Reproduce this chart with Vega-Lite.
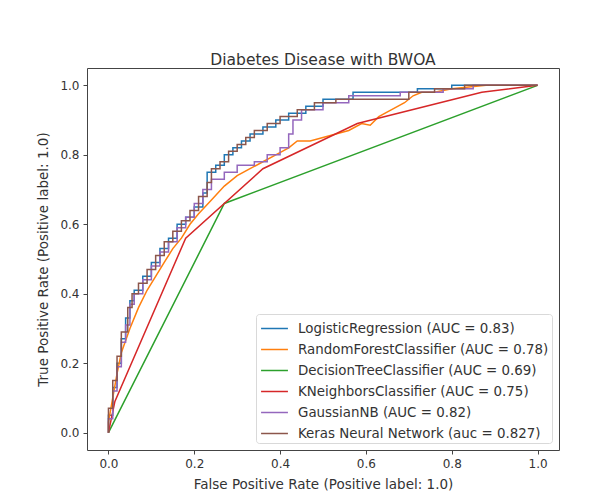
{
  "$schema": "https://vega.github.io/schema/vega-lite/v6.json",
  "width": 472,
  "height": 382,
  "autosize": {"type": "none"},
  "padding": {"left": 87, "top": 68, "right": 55, "bottom": 51},
  "background": "white",
  "title": {"text": "Diabetes Disease with BWOA", "fontSize": 15.5, "font": "DejaVu Sans", "fontWeight": "normal", "color": "#333", "offset": 0},
  "config": {
    "view": {"stroke": "#444", "strokeWidth": 1},
    "axis": {"grid": false, "domain": false, "tickColor": "#444", "tickSize": 4, "labelFont": "DejaVu Sans", "labelFontSize": 12, "labelColor": "#333", "labelPadding": 4, "titleFont": "DejaVu Sans", "titleFontSize": 13.5, "titleFontWeight": "normal", "titleColor": "#333"},
    "legend": {"labelFont": "DejaVu Sans", "labelFontSize": 13.4, "labelColor": "#333", "labelLimit": 0}
  },
  "data": {"values": [
    {"model": "LogisticRegression (AUC = 0.83)", "step": 0, "fpr": 0, "tpr": 0},
    {"model": "LogisticRegression (AUC = 0.83)", "step": 1, "fpr": 0, "tpr": 0.05},
    {"model": "LogisticRegression (AUC = 0.83)", "step": 2, "fpr": 0.01, "tpr": 0.05},
    {"model": "LogisticRegression (AUC = 0.83)", "step": 3, "fpr": 0.01, "tpr": 0.13},
    {"model": "LogisticRegression (AUC = 0.83)", "step": 4, "fpr": 0.02, "tpr": 0.13},
    {"model": "LogisticRegression (AUC = 0.83)", "step": 5, "fpr": 0.02, "tpr": 0.2},
    {"model": "LogisticRegression (AUC = 0.83)", "step": 6, "fpr": 0.03, "tpr": 0.2},
    {"model": "LogisticRegression (AUC = 0.83)", "step": 7, "fpr": 0.03, "tpr": 0.27},
    {"model": "LogisticRegression (AUC = 0.83)", "step": 8, "fpr": 0.04, "tpr": 0.27},
    {"model": "LogisticRegression (AUC = 0.83)", "step": 9, "fpr": 0.04, "tpr": 0.33},
    {"model": "LogisticRegression (AUC = 0.83)", "step": 10, "fpr": 0.05, "tpr": 0.33},
    {"model": "LogisticRegression (AUC = 0.83)", "step": 11, "fpr": 0.05, "tpr": 0.38},
    {"model": "LogisticRegression (AUC = 0.83)", "step": 12, "fpr": 0.06, "tpr": 0.38},
    {"model": "LogisticRegression (AUC = 0.83)", "step": 13, "fpr": 0.06, "tpr": 0.41},
    {"model": "LogisticRegression (AUC = 0.83)", "step": 14, "fpr": 0.08, "tpr": 0.41},
    {"model": "LogisticRegression (AUC = 0.83)", "step": 15, "fpr": 0.08, "tpr": 0.45},
    {"model": "LogisticRegression (AUC = 0.83)", "step": 16, "fpr": 0.1, "tpr": 0.45},
    {"model": "LogisticRegression (AUC = 0.83)", "step": 17, "fpr": 0.1, "tpr": 0.49},
    {"model": "LogisticRegression (AUC = 0.83)", "step": 18, "fpr": 0.12, "tpr": 0.49},
    {"model": "LogisticRegression (AUC = 0.83)", "step": 19, "fpr": 0.12, "tpr": 0.53},
    {"model": "LogisticRegression (AUC = 0.83)", "step": 20, "fpr": 0.14, "tpr": 0.53},
    {"model": "LogisticRegression (AUC = 0.83)", "step": 21, "fpr": 0.14, "tpr": 0.56},
    {"model": "LogisticRegression (AUC = 0.83)", "step": 22, "fpr": 0.16, "tpr": 0.56},
    {"model": "LogisticRegression (AUC = 0.83)", "step": 23, "fpr": 0.16, "tpr": 0.6},
    {"model": "LogisticRegression (AUC = 0.83)", "step": 24, "fpr": 0.18, "tpr": 0.6},
    {"model": "LogisticRegression (AUC = 0.83)", "step": 25, "fpr": 0.18, "tpr": 0.62},
    {"model": "LogisticRegression (AUC = 0.83)", "step": 26, "fpr": 0.2, "tpr": 0.62},
    {"model": "LogisticRegression (AUC = 0.83)", "step": 27, "fpr": 0.2, "tpr": 0.65},
    {"model": "LogisticRegression (AUC = 0.83)", "step": 28, "fpr": 0.22, "tpr": 0.65},
    {"model": "LogisticRegression (AUC = 0.83)", "step": 29, "fpr": 0.22, "tpr": 0.69},
    {"model": "LogisticRegression (AUC = 0.83)", "step": 30, "fpr": 0.23, "tpr": 0.69},
    {"model": "LogisticRegression (AUC = 0.83)", "step": 31, "fpr": 0.23, "tpr": 0.75},
    {"model": "LogisticRegression (AUC = 0.83)", "step": 32, "fpr": 0.25, "tpr": 0.75},
    {"model": "LogisticRegression (AUC = 0.83)", "step": 33, "fpr": 0.25, "tpr": 0.77},
    {"model": "LogisticRegression (AUC = 0.83)", "step": 34, "fpr": 0.27, "tpr": 0.77},
    {"model": "LogisticRegression (AUC = 0.83)", "step": 35, "fpr": 0.27, "tpr": 0.8},
    {"model": "LogisticRegression (AUC = 0.83)", "step": 36, "fpr": 0.29, "tpr": 0.8},
    {"model": "LogisticRegression (AUC = 0.83)", "step": 37, "fpr": 0.29, "tpr": 0.82},
    {"model": "LogisticRegression (AUC = 0.83)", "step": 38, "fpr": 0.31, "tpr": 0.82},
    {"model": "LogisticRegression (AUC = 0.83)", "step": 39, "fpr": 0.31, "tpr": 0.84},
    {"model": "LogisticRegression (AUC = 0.83)", "step": 40, "fpr": 0.33, "tpr": 0.84},
    {"model": "LogisticRegression (AUC = 0.83)", "step": 41, "fpr": 0.33, "tpr": 0.86},
    {"model": "LogisticRegression (AUC = 0.83)", "step": 42, "fpr": 0.36, "tpr": 0.86},
    {"model": "LogisticRegression (AUC = 0.83)", "step": 43, "fpr": 0.36, "tpr": 0.88},
    {"model": "LogisticRegression (AUC = 0.83)", "step": 44, "fpr": 0.39, "tpr": 0.88},
    {"model": "LogisticRegression (AUC = 0.83)", "step": 45, "fpr": 0.39, "tpr": 0.9},
    {"model": "LogisticRegression (AUC = 0.83)", "step": 46, "fpr": 0.42, "tpr": 0.9},
    {"model": "LogisticRegression (AUC = 0.83)", "step": 47, "fpr": 0.42, "tpr": 0.92},
    {"model": "LogisticRegression (AUC = 0.83)", "step": 48, "fpr": 0.46, "tpr": 0.92},
    {"model": "LogisticRegression (AUC = 0.83)", "step": 49, "fpr": 0.46, "tpr": 0.94},
    {"model": "LogisticRegression (AUC = 0.83)", "step": 50, "fpr": 0.5, "tpr": 0.94},
    {"model": "LogisticRegression (AUC = 0.83)", "step": 51, "fpr": 0.5, "tpr": 0.96},
    {"model": "LogisticRegression (AUC = 0.83)", "step": 52, "fpr": 0.57, "tpr": 0.96},
    {"model": "LogisticRegression (AUC = 0.83)", "step": 53, "fpr": 0.57, "tpr": 0.98},
    {"model": "LogisticRegression (AUC = 0.83)", "step": 54, "fpr": 0.72, "tpr": 0.98},
    {"model": "LogisticRegression (AUC = 0.83)", "step": 55, "fpr": 0.72, "tpr": 0.99},
    {"model": "LogisticRegression (AUC = 0.83)", "step": 56, "fpr": 0.8, "tpr": 0.99},
    {"model": "LogisticRegression (AUC = 0.83)", "step": 57, "fpr": 0.8, "tpr": 1.0},
    {"model": "LogisticRegression (AUC = 0.83)", "step": 58, "fpr": 1.0, "tpr": 1.0},

    {"model": "RandomForestClassifier (AUC = 0.78)", "step": 0, "fpr": 0, "tpr": 0},
    {"model": "RandomForestClassifier (AUC = 0.78)", "step": 1, "fpr": 0, "tpr": 0.03},
    {"model": "RandomForestClassifier (AUC = 0.78)", "step": 2, "fpr": 0.01, "tpr": 0.1},
    {"model": "RandomForestClassifier (AUC = 0.78)", "step": 3, "fpr": 0.02, "tpr": 0.17},
    {"model": "RandomForestClassifier (AUC = 0.78)", "step": 4, "fpr": 0.03, "tpr": 0.23},
    {"model": "RandomForestClassifier (AUC = 0.78)", "step": 5, "fpr": 0.05, "tpr": 0.3},
    {"model": "RandomForestClassifier (AUC = 0.78)", "step": 6, "fpr": 0.07, "tpr": 0.36},
    {"model": "RandomForestClassifier (AUC = 0.78)", "step": 7, "fpr": 0.09, "tpr": 0.41},
    {"model": "RandomForestClassifier (AUC = 0.78)", "step": 8, "fpr": 0.11, "tpr": 0.45},
    {"model": "RandomForestClassifier (AUC = 0.78)", "step": 9, "fpr": 0.13, "tpr": 0.49},
    {"model": "RandomForestClassifier (AUC = 0.78)", "step": 10, "fpr": 0.15, "tpr": 0.53},
    {"model": "RandomForestClassifier (AUC = 0.78)", "step": 11, "fpr": 0.17, "tpr": 0.56},
    {"model": "RandomForestClassifier (AUC = 0.78)", "step": 12, "fpr": 0.19, "tpr": 0.6},
    {"model": "RandomForestClassifier (AUC = 0.78)", "step": 13, "fpr": 0.21, "tpr": 0.63},
    {"model": "RandomForestClassifier (AUC = 0.78)", "step": 14, "fpr": 0.24, "tpr": 0.67},
    {"model": "RandomForestClassifier (AUC = 0.78)", "step": 15, "fpr": 0.27, "tpr": 0.71},
    {"model": "RandomForestClassifier (AUC = 0.78)", "step": 16, "fpr": 0.3, "tpr": 0.74},
    {"model": "RandomForestClassifier (AUC = 0.78)", "step": 17, "fpr": 0.33, "tpr": 0.76},
    {"model": "RandomForestClassifier (AUC = 0.78)", "step": 18, "fpr": 0.36, "tpr": 0.78},
    {"model": "RandomForestClassifier (AUC = 0.78)", "step": 19, "fpr": 0.39, "tpr": 0.8},
    {"model": "RandomForestClassifier (AUC = 0.78)", "step": 20, "fpr": 0.42, "tpr": 0.82},
    {"model": "RandomForestClassifier (AUC = 0.78)", "step": 21, "fpr": 0.44, "tpr": 0.84},
    {"model": "RandomForestClassifier (AUC = 0.78)", "step": 22, "fpr": 0.47, "tpr": 0.84},
    {"model": "RandomForestClassifier (AUC = 0.78)", "step": 23, "fpr": 0.5, "tpr": 0.85},
    {"model": "RandomForestClassifier (AUC = 0.78)", "step": 24, "fpr": 0.53, "tpr": 0.86},
    {"model": "RandomForestClassifier (AUC = 0.78)", "step": 25, "fpr": 0.56, "tpr": 0.87},
    {"model": "RandomForestClassifier (AUC = 0.78)", "step": 26, "fpr": 0.59, "tpr": 0.89},
    {"model": "RandomForestClassifier (AUC = 0.78)", "step": 27, "fpr": 0.61, "tpr": 0.885},
    {"model": "RandomForestClassifier (AUC = 0.78)", "step": 28, "fpr": 0.63, "tpr": 0.91},
    {"model": "RandomForestClassifier (AUC = 0.78)", "step": 29, "fpr": 0.66, "tpr": 0.93},
    {"model": "RandomForestClassifier (AUC = 0.78)", "step": 30, "fpr": 0.69, "tpr": 0.95},
    {"model": "RandomForestClassifier (AUC = 0.78)", "step": 31, "fpr": 0.71, "tpr": 0.97},
    {"model": "RandomForestClassifier (AUC = 0.78)", "step": 32, "fpr": 0.73, "tpr": 0.98},
    {"model": "RandomForestClassifier (AUC = 0.78)", "step": 33, "fpr": 0.76, "tpr": 0.98},
    {"model": "RandomForestClassifier (AUC = 0.78)", "step": 34, "fpr": 0.8, "tpr": 0.99},
    {"model": "RandomForestClassifier (AUC = 0.78)", "step": 35, "fpr": 0.88, "tpr": 1.0},
    {"model": "RandomForestClassifier (AUC = 0.78)", "step": 36, "fpr": 1.0, "tpr": 1.0},

    {"model": "DecisionTreeClassifier (AUC = 0.69)", "step": 0, "fpr": 0, "tpr": 0},
    {"model": "DecisionTreeClassifier (AUC = 0.69)", "step": 1, "fpr": 0.27, "tpr": 0.66},
    {"model": "DecisionTreeClassifier (AUC = 0.69)", "step": 2, "fpr": 1.0, "tpr": 1.0},

    {"model": "KNeighborsClassifier (AUC = 0.75)", "step": 0, "fpr": 0, "tpr": 0},
    {"model": "KNeighborsClassifier (AUC = 0.75)", "step": 1, "fpr": 0.015, "tpr": 0.09},
    {"model": "KNeighborsClassifier (AUC = 0.75)", "step": 2, "fpr": 0.18, "tpr": 0.56},
    {"model": "KNeighborsClassifier (AUC = 0.75)", "step": 3, "fpr": 0.36, "tpr": 0.76},
    {"model": "KNeighborsClassifier (AUC = 0.75)", "step": 4, "fpr": 0.58, "tpr": 0.89},
    {"model": "KNeighborsClassifier (AUC = 0.75)", "step": 5, "fpr": 0.87, "tpr": 0.98},
    {"model": "KNeighborsClassifier (AUC = 0.75)", "step": 6, "fpr": 1.0, "tpr": 1.0},

    {"model": "GaussianNB (AUC = 0.82)", "step": 0, "fpr": 0, "tpr": 0},
    {"model": "GaussianNB (AUC = 0.82)", "step": 1, "fpr": 0, "tpr": 0.04},
    {"model": "GaussianNB (AUC = 0.82)", "step": 2, "fpr": 0.01, "tpr": 0.04},
    {"model": "GaussianNB (AUC = 0.82)", "step": 3, "fpr": 0.01, "tpr": 0.12},
    {"model": "GaussianNB (AUC = 0.82)", "step": 4, "fpr": 0.02, "tpr": 0.12},
    {"model": "GaussianNB (AUC = 0.82)", "step": 5, "fpr": 0.02, "tpr": 0.19},
    {"model": "GaussianNB (AUC = 0.82)", "step": 6, "fpr": 0.03, "tpr": 0.19},
    {"model": "GaussianNB (AUC = 0.82)", "step": 7, "fpr": 0.03, "tpr": 0.26},
    {"model": "GaussianNB (AUC = 0.82)", "step": 8, "fpr": 0.04, "tpr": 0.26},
    {"model": "GaussianNB (AUC = 0.82)", "step": 9, "fpr": 0.04, "tpr": 0.31},
    {"model": "GaussianNB (AUC = 0.82)", "step": 10, "fpr": 0.05, "tpr": 0.31},
    {"model": "GaussianNB (AUC = 0.82)", "step": 11, "fpr": 0.05, "tpr": 0.37},
    {"model": "GaussianNB (AUC = 0.82)", "step": 12, "fpr": 0.06, "tpr": 0.37},
    {"model": "GaussianNB (AUC = 0.82)", "step": 13, "fpr": 0.06, "tpr": 0.4},
    {"model": "GaussianNB (AUC = 0.82)", "step": 14, "fpr": 0.08, "tpr": 0.4},
    {"model": "GaussianNB (AUC = 0.82)", "step": 15, "fpr": 0.08, "tpr": 0.44},
    {"model": "GaussianNB (AUC = 0.82)", "step": 16, "fpr": 0.1, "tpr": 0.44},
    {"model": "GaussianNB (AUC = 0.82)", "step": 17, "fpr": 0.1, "tpr": 0.48},
    {"model": "GaussianNB (AUC = 0.82)", "step": 18, "fpr": 0.12, "tpr": 0.48},
    {"model": "GaussianNB (AUC = 0.82)", "step": 19, "fpr": 0.12, "tpr": 0.52},
    {"model": "GaussianNB (AUC = 0.82)", "step": 20, "fpr": 0.14, "tpr": 0.52},
    {"model": "GaussianNB (AUC = 0.82)", "step": 21, "fpr": 0.14, "tpr": 0.55},
    {"model": "GaussianNB (AUC = 0.82)", "step": 22, "fpr": 0.16, "tpr": 0.55},
    {"model": "GaussianNB (AUC = 0.82)", "step": 23, "fpr": 0.16, "tpr": 0.59},
    {"model": "GaussianNB (AUC = 0.82)", "step": 24, "fpr": 0.18, "tpr": 0.59},
    {"model": "GaussianNB (AUC = 0.82)", "step": 25, "fpr": 0.18, "tpr": 0.62},
    {"model": "GaussianNB (AUC = 0.82)", "step": 26, "fpr": 0.2, "tpr": 0.62},
    {"model": "GaussianNB (AUC = 0.82)", "step": 27, "fpr": 0.2, "tpr": 0.66},
    {"model": "GaussianNB (AUC = 0.82)", "step": 28, "fpr": 0.22, "tpr": 0.66},
    {"model": "GaussianNB (AUC = 0.82)", "step": 29, "fpr": 0.22, "tpr": 0.7},
    {"model": "GaussianNB (AUC = 0.82)", "step": 30, "fpr": 0.24, "tpr": 0.7},
    {"model": "GaussianNB (AUC = 0.82)", "step": 31, "fpr": 0.24, "tpr": 0.73},
    {"model": "GaussianNB (AUC = 0.82)", "step": 32, "fpr": 0.27, "tpr": 0.73},
    {"model": "GaussianNB (AUC = 0.82)", "step": 33, "fpr": 0.27, "tpr": 0.75},
    {"model": "GaussianNB (AUC = 0.82)", "step": 34, "fpr": 0.3, "tpr": 0.75},
    {"model": "GaussianNB (AUC = 0.82)", "step": 35, "fpr": 0.3, "tpr": 0.77},
    {"model": "GaussianNB (AUC = 0.82)", "step": 36, "fpr": 0.34, "tpr": 0.77},
    {"model": "GaussianNB (AUC = 0.82)", "step": 37, "fpr": 0.34, "tpr": 0.78},
    {"model": "GaussianNB (AUC = 0.82)", "step": 38, "fpr": 0.37, "tpr": 0.78},
    {"model": "GaussianNB (AUC = 0.82)", "step": 39, "fpr": 0.37, "tpr": 0.8},
    {"model": "GaussianNB (AUC = 0.82)", "step": 40, "fpr": 0.4, "tpr": 0.8},
    {"model": "GaussianNB (AUC = 0.82)", "step": 41, "fpr": 0.4, "tpr": 0.82},
    {"model": "GaussianNB (AUC = 0.82)", "step": 42, "fpr": 0.42, "tpr": 0.82},
    {"model": "GaussianNB (AUC = 0.82)", "step": 43, "fpr": 0.42, "tpr": 0.86},
    {"model": "GaussianNB (AUC = 0.82)", "step": 44, "fpr": 0.43, "tpr": 0.86},
    {"model": "GaussianNB (AUC = 0.82)", "step": 45, "fpr": 0.43, "tpr": 0.9},
    {"model": "GaussianNB (AUC = 0.82)", "step": 46, "fpr": 0.45, "tpr": 0.9},
    {"model": "GaussianNB (AUC = 0.82)", "step": 47, "fpr": 0.45, "tpr": 0.93},
    {"model": "GaussianNB (AUC = 0.82)", "step": 48, "fpr": 0.5, "tpr": 0.93},
    {"model": "GaussianNB (AUC = 0.82)", "step": 49, "fpr": 0.5, "tpr": 0.95},
    {"model": "GaussianNB (AUC = 0.82)", "step": 50, "fpr": 0.56, "tpr": 0.95},
    {"model": "GaussianNB (AUC = 0.82)", "step": 51, "fpr": 0.56, "tpr": 0.97},
    {"model": "GaussianNB (AUC = 0.82)", "step": 52, "fpr": 0.68, "tpr": 0.97},
    {"model": "GaussianNB (AUC = 0.82)", "step": 53, "fpr": 0.68, "tpr": 0.98},
    {"model": "GaussianNB (AUC = 0.82)", "step": 54, "fpr": 0.78, "tpr": 0.98},
    {"model": "GaussianNB (AUC = 0.82)", "step": 55, "fpr": 0.78, "tpr": 0.99},
    {"model": "GaussianNB (AUC = 0.82)", "step": 56, "fpr": 0.85, "tpr": 0.99},
    {"model": "GaussianNB (AUC = 0.82)", "step": 57, "fpr": 0.85, "tpr": 1.0},
    {"model": "GaussianNB (AUC = 0.82)", "step": 58, "fpr": 1.0, "tpr": 1.0},

    {"model": "Keras Neural Network (auc = 0.827)", "step": 0, "fpr": 0, "tpr": 0},
    {"model": "Keras Neural Network (auc = 0.827)", "step": 1, "fpr": 0, "tpr": 0.07},
    {"model": "Keras Neural Network (auc = 0.827)", "step": 2, "fpr": 0.01, "tpr": 0.07},
    {"model": "Keras Neural Network (auc = 0.827)", "step": 3, "fpr": 0.01, "tpr": 0.15},
    {"model": "Keras Neural Network (auc = 0.827)", "step": 4, "fpr": 0.02, "tpr": 0.15},
    {"model": "Keras Neural Network (auc = 0.827)", "step": 5, "fpr": 0.02, "tpr": 0.22},
    {"model": "Keras Neural Network (auc = 0.827)", "step": 6, "fpr": 0.03, "tpr": 0.22},
    {"model": "Keras Neural Network (auc = 0.827)", "step": 7, "fpr": 0.03, "tpr": 0.29},
    {"model": "Keras Neural Network (auc = 0.827)", "step": 8, "fpr": 0.045, "tpr": 0.29},
    {"model": "Keras Neural Network (auc = 0.827)", "step": 9, "fpr": 0.045, "tpr": 0.36},
    {"model": "Keras Neural Network (auc = 0.827)", "step": 10, "fpr": 0.055, "tpr": 0.36},
    {"model": "Keras Neural Network (auc = 0.827)", "step": 11, "fpr": 0.055, "tpr": 0.4},
    {"model": "Keras Neural Network (auc = 0.827)", "step": 12, "fpr": 0.07, "tpr": 0.4},
    {"model": "Keras Neural Network (auc = 0.827)", "step": 13, "fpr": 0.07, "tpr": 0.43},
    {"model": "Keras Neural Network (auc = 0.827)", "step": 14, "fpr": 0.09, "tpr": 0.43},
    {"model": "Keras Neural Network (auc = 0.827)", "step": 15, "fpr": 0.09, "tpr": 0.47},
    {"model": "Keras Neural Network (auc = 0.827)", "step": 16, "fpr": 0.11, "tpr": 0.47},
    {"model": "Keras Neural Network (auc = 0.827)", "step": 17, "fpr": 0.11, "tpr": 0.51},
    {"model": "Keras Neural Network (auc = 0.827)", "step": 18, "fpr": 0.13, "tpr": 0.51},
    {"model": "Keras Neural Network (auc = 0.827)", "step": 19, "fpr": 0.13, "tpr": 0.55},
    {"model": "Keras Neural Network (auc = 0.827)", "step": 20, "fpr": 0.15, "tpr": 0.55},
    {"model": "Keras Neural Network (auc = 0.827)", "step": 21, "fpr": 0.15, "tpr": 0.58},
    {"model": "Keras Neural Network (auc = 0.827)", "step": 22, "fpr": 0.17, "tpr": 0.58},
    {"model": "Keras Neural Network (auc = 0.827)", "step": 23, "fpr": 0.17, "tpr": 0.61},
    {"model": "Keras Neural Network (auc = 0.827)", "step": 24, "fpr": 0.19, "tpr": 0.61},
    {"model": "Keras Neural Network (auc = 0.827)", "step": 25, "fpr": 0.19, "tpr": 0.64},
    {"model": "Keras Neural Network (auc = 0.827)", "step": 26, "fpr": 0.21, "tpr": 0.64},
    {"model": "Keras Neural Network (auc = 0.827)", "step": 27, "fpr": 0.21, "tpr": 0.68},
    {"model": "Keras Neural Network (auc = 0.827)", "step": 28, "fpr": 0.23, "tpr": 0.68},
    {"model": "Keras Neural Network (auc = 0.827)", "step": 29, "fpr": 0.23, "tpr": 0.72},
    {"model": "Keras Neural Network (auc = 0.827)", "step": 30, "fpr": 0.24, "tpr": 0.72},
    {"model": "Keras Neural Network (auc = 0.827)", "step": 31, "fpr": 0.24, "tpr": 0.76},
    {"model": "Keras Neural Network (auc = 0.827)", "step": 32, "fpr": 0.26, "tpr": 0.76},
    {"model": "Keras Neural Network (auc = 0.827)", "step": 33, "fpr": 0.26, "tpr": 0.78},
    {"model": "Keras Neural Network (auc = 0.827)", "step": 34, "fpr": 0.28, "tpr": 0.78},
    {"model": "Keras Neural Network (auc = 0.827)", "step": 35, "fpr": 0.28, "tpr": 0.81},
    {"model": "Keras Neural Network (auc = 0.827)", "step": 36, "fpr": 0.3, "tpr": 0.81},
    {"model": "Keras Neural Network (auc = 0.827)", "step": 37, "fpr": 0.3, "tpr": 0.83},
    {"model": "Keras Neural Network (auc = 0.827)", "step": 38, "fpr": 0.32, "tpr": 0.83},
    {"model": "Keras Neural Network (auc = 0.827)", "step": 39, "fpr": 0.32, "tpr": 0.85},
    {"model": "Keras Neural Network (auc = 0.827)", "step": 40, "fpr": 0.34, "tpr": 0.85},
    {"model": "Keras Neural Network (auc = 0.827)", "step": 41, "fpr": 0.34, "tpr": 0.87},
    {"model": "Keras Neural Network (auc = 0.827)", "step": 42, "fpr": 0.37, "tpr": 0.87},
    {"model": "Keras Neural Network (auc = 0.827)", "step": 43, "fpr": 0.37, "tpr": 0.89},
    {"model": "Keras Neural Network (auc = 0.827)", "step": 44, "fpr": 0.4, "tpr": 0.89},
    {"model": "Keras Neural Network (auc = 0.827)", "step": 45, "fpr": 0.4, "tpr": 0.91},
    {"model": "Keras Neural Network (auc = 0.827)", "step": 46, "fpr": 0.44, "tpr": 0.91},
    {"model": "Keras Neural Network (auc = 0.827)", "step": 47, "fpr": 0.44, "tpr": 0.93},
    {"model": "Keras Neural Network (auc = 0.827)", "step": 48, "fpr": 0.48, "tpr": 0.93},
    {"model": "Keras Neural Network (auc = 0.827)", "step": 49, "fpr": 0.48, "tpr": 0.95},
    {"model": "Keras Neural Network (auc = 0.827)", "step": 50, "fpr": 0.53, "tpr": 0.95},
    {"model": "Keras Neural Network (auc = 0.827)", "step": 51, "fpr": 0.53, "tpr": 0.96},
    {"model": "Keras Neural Network (auc = 0.827)", "step": 52, "fpr": 0.7, "tpr": 0.96},
    {"model": "Keras Neural Network (auc = 0.827)", "step": 53, "fpr": 0.7, "tpr": 0.98},
    {"model": "Keras Neural Network (auc = 0.827)", "step": 54, "fpr": 0.76, "tpr": 0.98},
    {"model": "Keras Neural Network (auc = 0.827)", "step": 55, "fpr": 0.76, "tpr": 0.99},
    {"model": "Keras Neural Network (auc = 0.827)", "step": 56, "fpr": 0.83, "tpr": 0.99},
    {"model": "Keras Neural Network (auc = 0.827)", "step": 57, "fpr": 0.83, "tpr": 1.0},
    {"model": "Keras Neural Network (auc = 0.827)", "step": 58, "fpr": 1.0, "tpr": 1.0}
  ]},
  "mark": {"type": "line", "strokeWidth": 1.5, "clip": true},
  "encoding": {
    "x": {"field": "fpr", "type": "quantitative", "scale": {"domain": [-0.05, 1.05], "nice": false, "zero": false},
      "axis": {"title": "False Positive Rate (Positive label: 1.0)", "values": [0, 0.2, 0.4, 0.6, 0.8, 1.0], "format": ".1f", "titlePadding": 8}},
    "y": {"field": "tpr", "type": "quantitative", "scale": {"domain": [-0.05, 1.05], "nice": false, "zero": false},
      "axis": {"title": "True Positive Rate (Positive label: 1.0)", "values": [0, 0.2, 0.4, 0.6, 0.8, 1.0], "format": ".1f", "titlePadding": 9}},
    "order": {"field": "step", "type": "quantitative"},
    "color": {"field": "model", "type": "nominal",
      "scale": {"domain": ["LogisticRegression (AUC = 0.83)", "RandomForestClassifier (AUC = 0.78)", "DecisionTreeClassifier (AUC = 0.69)", "KNeighborsClassifier (AUC = 0.75)", "GaussianNB (AUC = 0.82)", "Keras Neural Network (auc = 0.827)"],
        "range": ["#1f77b4", "#ff7f0e", "#2ca02c", "#d62728", "#9467bd", "#8c564b"]},
      "legend": {"title": null, "orient": "bottom-right", "offset": 7, "symbolType": "M-1.25,0H1.25", "symbolSize": 462, "symbolStrokeWidth": 1.5, "symbolOffset": 4, "labelOffset": 12, "rowPadding": 3, "padding": 3, "strokeColor": "#d9d9d9", "fillColor": "#ffffff", "cornerRadius": 3}}
  }
}
